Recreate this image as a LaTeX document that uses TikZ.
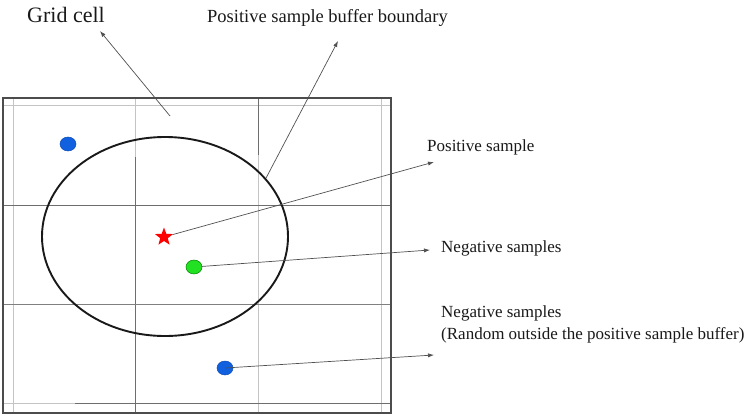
\documentclass[tikz,border=0pt]{standalone}
\usepackage{fontspec}
\setmainfont{Liberation Serif}
\usetikzlibrary{arrows.meta,shapes.geometric}
\definecolor{dotblue}{HTML}{1060E0}
\definecolor{dotgreen}{HTML}{22E022}
\definecolor{gridlight}{HTML}{C4C4C4}
\definecolor{griddark}{HTML}{6E6E6E}
\definecolor{arrowgray}{HTML}{505050}
\tikzset{
  lbl/.style={inner sep=0pt, anchor=base west, font=\fontsize{17}{22}\selectfont, text=black!90},
  light/.style={draw=gridlight, line width=1pt},
  dark/.style={draw=griddark, line width=1pt},
  pointer/.style={draw=arrowgray, line width=0.7pt, -{Latex[length=6pt,width=4.2pt]}},
  dot/.style={ellipse, minimum width=16pt, minimum height=14pt, inner sep=0pt, line width=0.5pt}
}
\begin{document}
\begin{tikzpicture}[x=1pt,y=-1pt]
\useasboundingbox (0,0) rectangle (754,417);
% grid
\draw[light] (3,106) -- (391,106);
\draw[light] (13,98) -- (13,413);
\draw[light] (135,98) -- (135,157);
\draw[dark] (135,157) -- (135,413);
\draw[dark] (258,98) -- (258,155);
\draw[light] (258,155) -- (258,413);
\draw[light] (381,98) -- (381,413);
\draw[dark] (3,205) -- (391,205);
\draw[draw=black!50, line width=1pt] (3,304) -- (391,304);
\draw[light] (3,403) -- (75,403);
\draw[dark] (75,403) -- (391,403);
\draw[draw=black!70, line width=1.2pt] (3,98) rectangle (391,413);
% buffer
\node[ellipse, draw=black!90, line width=1.9pt, minimum width=246pt, minimum height=199pt, inner sep=0pt] (buf) at (165,236.5) {};
% samples
\node[dot, fill=dotblue, draw=dotblue!80!black] (blue1) at (68,144) {};
\node[star, star points=5, star point ratio=2.4, fill=red, inner sep=0pt, minimum size=19pt] (star) at (164,237) {};
\node[dot, fill=dotgreen, draw=green!50!black] (green) at (194,267) {};
\node[dot, fill=dotblue, draw=dotblue!80!black] (blue2) at (225,368) {};
% labels
\node[lbl, font=\fontsize{22}{26}\selectfont] (gridcell) at (27,23) {Grid cell};
\node[lbl, font=\fontsize{18.5}{22}\selectfont] (bufl) at (207,23) {Positive sample buffer boundary};
\node[lbl] (posl) at (427,151) {Positive sample};
\node[lbl] (negl) at (441,252) {Negative samples};
\node[lbl, align=left] (neg2l) at (441,339) {Negative samples\\(Random outside the positive sample buffer)};
% connector ends
\coordinate (gcstart) at (170,116);
\coordinate (gctip) at (100,31);
\coordinate (buftip) at (338,41);
\coordinate (postip) at (434,162);
\coordinate (negtip) at (430,250);
\coordinate (neg2tip) at (434,355);
% connectors
\draw[pointer] (gcstart) -- (gctip);
\draw[pointer] (buf.30) -- (buftip);
\draw[pointer] (star) -- (postip);
\draw[pointer] (green) -- (negtip);
\draw[pointer] (blue2.center) -- (neg2tip);
\end{tikzpicture}
\end{document}
